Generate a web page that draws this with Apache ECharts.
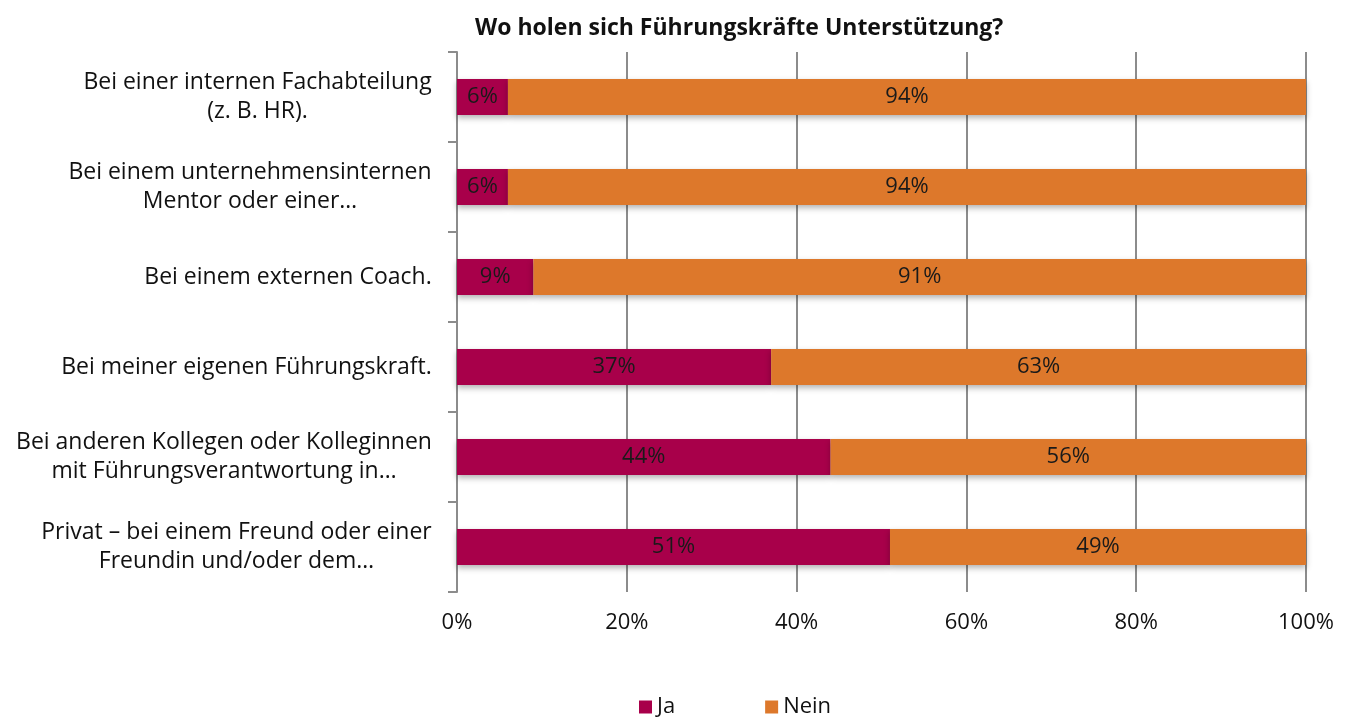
<!DOCTYPE html>
<html>
<head>
<meta charset="utf-8">
<script src="https://cdn.jsdelivr.net/npm/echarts@6/dist/echarts.min.js"></script>
<style>
  html, body { margin: 0; padding: 0; background: #fff; }
  #chart { width: 1348px; height: 722px; }
</style>
</head>
<body>
<div id="chart"></div>
<script>
var categories = [
  'Bei einer internen Fachabteilung\n(z. B. HR).',
  'Bei einem unternehmensinternen\nMentor oder einer…',
  'Bei einem externen Coach.',
  'Bei meiner eigenen Führungskraft.',
  'Bei anderen Kollegen oder Kolleginnen\nmit Führungsverantwortung in…',
  'Privat – bei einem Freund oder einer\nFreundin und/oder dem…'
];
var jaValues = [6, 6, 9, 37, 44, 51];
var neinValues = [94, 94, 91, 63, 56, 49];

var chartDom = document.getElementById('chart');
var chart = echarts.init(chartDom);

var labelFont = '"Open Sans", "DejaVu Sans", sans-serif';
var catFontSize = 23;

// each multi-line category label is centred line by line, block sits right against the axis
var measureCtx = document.createElement('canvas').getContext('2d');
measureCtx.font = catFontSize + 'px ' + labelFont;
var catRich = {};
categories.forEach(function (c, i) {
  var w = 0;
  c.split('\n').forEach(function (line) {
    w = Math.max(w, measureCtx.measureText(line).width);
  });
  catRich['c' + i] = {
    width: Math.ceil(w) + 2,
    align: 'center',
    fontFamily: labelFont,
    fontSize: catFontSize,
    lineHeight: 29,
    color: '#111'
  };
});

function barLabel() {
  return {
    show: true,
    position: 'inside',
    color: '#1a1a1a',
    fontFamily: labelFont,
    fontSize: 22,
    formatter: '{c}%'
  };
}

var option = {
  animation: false,
  title: {
    text: 'Wo holen sich Führungskräfte Unterstützung?',
    left: 470,
    top: 12,
    textStyle: {
      fontFamily: labelFont,
      fontSize: 23,
      fontWeight: 'bold',
      color: '#111'
    }
  },
  legend: {
    bottom: -1,
    left: 634,
    itemGap: 90,
    itemWidth: 13,
    itemHeight: 13,
    icon: 'rect',
    textStyle: { fontFamily: labelFont, fontSize: 22, color: '#111' },
    data: ['Ja', 'Nein']
  },
  grid: {
    left: 457,
    right: 42,
    top: 52,
    bottom: 130,
    containLabel: false
  },
  xAxis: {
    type: 'value',
    min: 0,
    max: 100,
    interval: 20,
    axisLine: { show: false },
    axisTick: { show: false },
    splitLine: { show: true, lineStyle: { color: '#8c8c8c', width: 2 } },
    axisLabel: {
      margin: 20,
      fontFamily: labelFont,
      fontSize: 22,
      color: '#111',
      formatter: function (v) { return v + '%'; }
    }
  },
  yAxis: {
    type: 'category',
    inverse: true,
    data: categories,
    axisLine: { show: true, lineStyle: { color: '#8c8c8c', width: 2 } },
    axisTick: { show: true, length: 9, lineStyle: { color: '#8c8c8c', width: 2 } },
    axisLabel: {
      margin: 24,
      align: 'right',
      rich: catRich,
      formatter: function (value, idx) {
        return value.split('\n').map(function (line) {
          return '{c' + idx + '|' + line + '}';
        }).join('\n');
      }
    }
  },
  series: [
    {
      name: 'Ja',
      type: 'bar',
      stack: 'total',
      barWidth: '40%',
      data: jaValues,
      itemStyle: {
        color: '#A8004A',
        shadowColor: 'rgba(0,0,0,0.3)',
        shadowBlur: 6,
        shadowOffsetY: 3
      },
      label: barLabel()
    },
    {
      name: 'Nein',
      type: 'bar',
      stack: 'total',
      barWidth: '40%',
      data: neinValues,
      itemStyle: {
        color: '#DD782B',
        shadowColor: 'rgba(0,0,0,0.3)',
        shadowBlur: 6,
        shadowOffsetY: 3
      },
      label: barLabel()
    }
  ]
};

chart.setOption(option);
</script>
</body>
</html>
